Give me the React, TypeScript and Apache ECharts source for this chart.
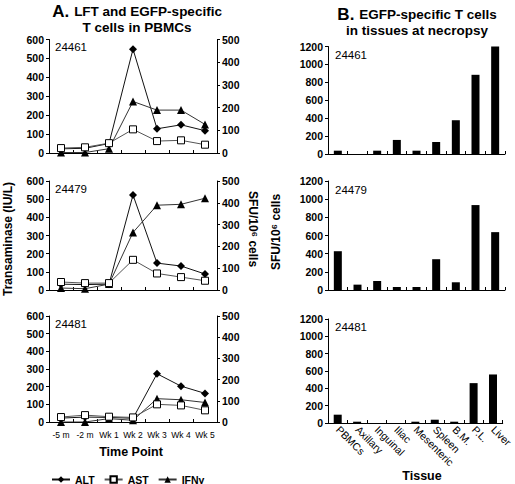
import React, { useEffect, useRef } from "react";
import * as echarts from "echarts";

const timePoints = ["-5 m", "-2 m", "Wk 1", "Wk 2", "Wk 3", "Wk 4", "Wk 5"];
const animalIds = ["24461", "24479", "24481"];

const alt24461 = [22, 25, 50, 549, 128, 149, 118];
const ast24461 = [26, 30, 52, 125, 63, 67, 44];
const ifn24461 = [2, 2, 19, 227, 189, 189, 126];

const alt24479 = [32, 30, 32, 523, 148, 132, 88];
const ast24479 = [44, 38, 38, 166, 91, 71, 51];
const ifn24479 = [9, 6, 27, 264, 389, 393, 421];

const alt24481 = [22, 28, 26, 21, 273, 203, 162];
const ast24481 = [28, 39, 30, 26, 100, 94, 66];
const ifn24481 = [0, 0, 16, 8, 110, 105, 92];

const tissues = ["PBMCs", "Axillary", "Inguinal", "Iliac", "Mesenteric", "Spleen", "B.M.", "P.L.", "Liver"];
const sfu24461 = [37, 0, 37, 157, 37, 134, 377, 884, 1200];
const sfu24479 = [427, 59, 99, 33, 33, 339, 85, 935, 637];
const sfu24481 = [96, 15, 0, 0, 15, 38, 15, 460, 560];

const altData = [alt24461, alt24479, alt24481];
const astData = [ast24461, ast24479, ast24481];
const ifnData = [ifn24461, ifn24479, ifn24481];
const sfuData = [sfu24461, sfu24479, sfu24481];

const FONT = "'Liberation Sans', Arial, Helvetica, sans-serif";

export default function App() {
  const ref = useRef<HTMLDivElement>(null);
  useEffect(() => {
    if (!ref.current) return;
    const chart = echarts.init(ref.current, null, { renderer: "svg" });

    const leftGrids = [
      { left: 49, top: 39.5, width: 168, height: 113.5 },
      { left: 49, top: 181, width: 168, height: 109 },
      { left: 49, top: 316, width: 168, height: 106 },
    ];
    const rightGrids = [
      { left: 328, top: 46.5, width: 177, height: 107.5 },
      { left: 328, top: 181, width: 177, height: 109 },
      { left: 328, top: 319, width: 177, height: 104 },
    ];
    const grids = [...leftGrids, ...rightGrids];

    const axisLine = { show: true, lineStyle: { color: "#000", width: 1 } };
    const tickLabel = {
      color: "#000",
      fontFamily: FONT,
      fontWeight: "bold" as const,
      fontSize: 10.5,
      formatter: (v: number) => String(v),
    };

    const xAxes: any[] = [];
    const yAxes: any[] = [];
    const series: any[] = [];

    for (let i = 0; i < 3; i++) {
      xAxes.push({
        type: "category",
        gridIndex: i,
        data: timePoints,
        boundaryGap: true,
        axisLine,
        axisTick: { show: true, inside: true, length: 3, lineStyle: { color: "#000" } },
        axisLabel: {
          show: i === 2,
          color: "#000",
          fontFamily: FONT,
          fontSize: 8.5,
          margin: 8,
          interval: 0,
        },
        splitLine: { show: false },
      });
      yAxes.push({
        type: "value",
        gridIndex: i,
        position: "left",
        min: 0,
        max: 600,
        interval: 100,
        axisLine,
        axisTick: { show: true, length: 3, lineStyle: { color: "#000" } },
        axisLabel: { ...tickLabel, margin: 5 },
        splitLine: { show: false },
      });
      yAxes.push({
        type: "value",
        gridIndex: i,
        position: "right",
        min: 0,
        max: 500,
        interval: 100,
        axisLine,
        axisTick: { show: true, length: 3, lineStyle: { color: "#000" } },
        axisLabel: { ...tickLabel, margin: 5 },
        splitLine: { show: false },
      });
      const leftIdx = yAxes.length - 2;
      const rightIdx = yAxes.length - 1;
      series.push({
        name: "ALT",
        type: "line",
        xAxisIndex: i,
        yAxisIndex: leftIdx,
        data: altData[i],
        symbol: "diamond",
        symbolSize: 8,
        lineStyle: { color: "#111", width: 1 },
        itemStyle: { color: "#000" },
        z: 2,
      });
      series.push({
        name: "IFNγ",
        type: "line",
        xAxisIndex: i,
        yAxisIndex: rightIdx,
        data: ifnData[i],
        symbol: "triangle",
        symbolSize: 8,
        lineStyle: { color: "#333", width: 1 },
        itemStyle: { color: "#000" },
        z: 3,
      });
      series.push({
        name: "AST",
        type: "line",
        xAxisIndex: i,
        yAxisIndex: leftIdx,
        data: astData[i],
        symbol: "rect",
        symbolSize: 7,
        showAllSymbol: true,
        lineStyle: { color: "#555", width: 1 },
        itemStyle: { color: "#fff", borderColor: "#000", borderWidth: 1 },
        z: 4,
      });
    }

    for (let j = 0; j < 3; j++) {
      const gi = 3 + j;
      xAxes.push({
        type: "category",
        gridIndex: gi,
        data: tissues,
        boundaryGap: true,
        axisLine,
        axisTick: { show: true, inside: true, length: 3, lineStyle: { color: "#000" } },
        axisLabel: {
          show: j === 2,
          color: "#000",
          fontFamily: FONT,
          fontSize: 10.5,
          rotate: -45,
          interval: 0,
          margin: 5,
        },
        splitLine: { show: false },
      });
      yAxes.push({
        type: "value",
        gridIndex: gi,
        position: "left",
        min: 0,
        max: 1200,
        interval: 200,
        axisLine,
        axisTick: { show: true, length: 3, lineStyle: { color: "#000" } },
        axisLabel: { ...tickLabel, margin: 5 },
        splitLine: { show: false },
      });
      series.push({
        name: "SFU " + animalIds[j],
        type: "bar",
        xAxisIndex: gi,
        yAxisIndex: yAxes.length - 1,
        data: sfuData[j],
        barWidth: 8,
        itemStyle: { color: "#000" },
      });
    }

    const idTop = [41, 183, 318];
    const idTopR = [49, 184, 321];
    const graphics: any[] = [];
    for (let k = 0; k < 3; k++) {
      graphics.push({
        type: "text",
        left: 55,
        top: idTop[k],
        style: { text: animalIds[k], font: `11.5px ${FONT}`, fill: "#000" },
      });
      graphics.push({
        type: "text",
        left: 335,
        top: idTopR[k],
        style: { text: animalIds[k], font: `11.5px ${FONT}`, fill: "#000" },
      });
    }

    const titleRich = {
      a: { fontSize: 17, fontWeight: "bold", fontFamily: FONT, color: "#000", lineHeight: 15 },
      b: { fontSize: 13.5, fontWeight: "bold", fontFamily: FONT, color: "#000", lineHeight: 15 },
    };

    const option: any = {
      animation: false,
      backgroundColor: "#fff",
      textStyle: { fontFamily: FONT },
      title: [
        {
          text: "{a|A.} {b|LFT and EGFP-specific}\n{b|T cells in PBMCs}",
          left: 132,
          top: -3,
          textAlign: "center",
          textStyle: { rich: titleRich },
        },
        {
          text: "{a|B.} {b|EGFP-specific T cells}\n{b|in tissues at necropsy}",
          left: 412,
          top: 0,
          textAlign: "center",
          textStyle: { rich: titleRich },
        },
      ],
      legend: {
        data: ["ALT", "AST", "IFNγ"],
        left: 46,
        top: 469,
        itemWidth: 18,
        itemHeight: 8,
        itemGap: 9,
        textStyle: { fontFamily: FONT, fontWeight: "bold", fontSize: 10.5, color: "#000" },
      },
      grid: grids,
      xAxis: xAxes,
      yAxis: yAxes,
      series,
      graphic: [
        ...graphics,
        {
          type: "text",
          x: 8,
          y: 239,
          rotation: Math.PI / 2,
          style: {
            text: "Transaminase (IU/L)",
            font: `bold 12px ${FONT}`,
            fill: "#000",
            align: "center",
            verticalAlign: "middle",
          },
        },
        {
          type: "text",
          x: 253,
          y: 229,
          rotation: -Math.PI / 2,
          style: {
            text: "SFU/10⁶ cells",
            font: `bold 12px ${FONT}`,
            fill: "#000",
            align: "center",
            verticalAlign: "middle",
          },
        },
        {
          type: "text",
          x: 276,
          y: 232,
          rotation: Math.PI / 2,
          style: {
            text: "SFU/10⁶ cells",
            font: `bold 12px ${FONT}`,
            fill: "#000",
            align: "center",
            verticalAlign: "middle",
          },
        },
        {
          type: "text",
          x: 131,
          y: 452,
          style: {
            text: "Time Point",
            font: `bold 12.5px ${FONT}`,
            fill: "#000",
            align: "center",
            verticalAlign: "middle",
          },
        },
        {
          type: "text",
          x: 422,
          y: 476,
          style: {
            text: "Tissue",
            font: `bold 12.5px ${FONT}`,
            fill: "#000",
            align: "center",
            verticalAlign: "middle",
          },
        },
      ],
    };

    chart.setOption(option);
    return () => {
      chart.dispose();
    };
  }, []);

  return (
    <div
      ref={ref}
      style={{ position: "fixed", left: 0, top: 0, width: 515, height: 484, background: "#fff" }}
    />
  );
}
